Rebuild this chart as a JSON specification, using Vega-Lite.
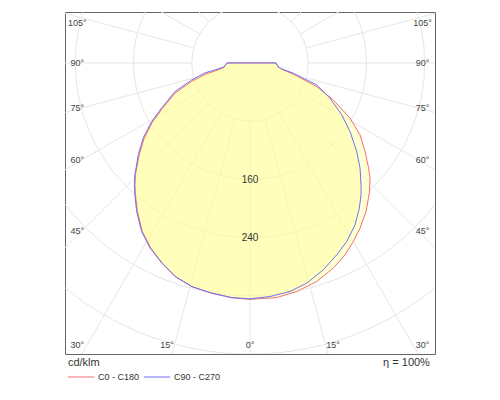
{
  "$schema": "https://vega.github.io/schema/vega-lite/v6.json",
  "width": 370,
  "height": 342,
  "autosize": "none",
  "padding": {"left": 65, "top": 12, "right": 65, "bottom": 46},
  "config": {
    "view": {"stroke": "#666", "strokeWidth": 1},
    "font": "Liberation Sans"
  },
  "datasets": {
    "rings": [
      {"x": 0, "y": 0, "r": 80},
      {"x": 0, "y": 0, "r": 160},
      {"x": 0, "y": 0, "r": 240},
      {"x": 0, "y": 0, "r": 320},
      {"x": 0, "y": 0, "r": 400}
    ],
    "spokes": [
      {"x1": 0, "y1": -80, "x2": 0, "y2": -700},
      {"x1": 20.7, "y1": -77.3, "x2": 181.2, "y2": -676.1},
      {"x1": 40, "y1": -69.3, "x2": 350, "y2": -606.2},
      {"x1": 56.6, "y1": -56.6, "x2": 495, "y2": -495},
      {"x1": 69.3, "y1": -40, "x2": 606.2, "y2": -350},
      {"x1": 77.3, "y1": -20.7, "x2": 676.1, "y2": -181.2},
      {"x1": 80, "y1": 0, "x2": 700, "y2": 0},
      {"x1": 77.3, "y1": 20.7, "x2": 676.1, "y2": 181.2},
      {"x1": 69.3, "y1": 40, "x2": 606.2, "y2": 350},
      {"x1": 56.6, "y1": 56.6, "x2": 495, "y2": 495},
      {"x1": 40, "y1": 69.3, "x2": 350, "y2": 606.2},
      {"x1": 20.7, "y1": 77.3, "x2": 181.2, "y2": 676.1},
      {"x1": -20.7, "y1": -77.3, "x2": -181.2, "y2": -676.1},
      {"x1": -40, "y1": -69.3, "x2": -350, "y2": -606.2},
      {"x1": -56.6, "y1": -56.6, "x2": -495, "y2": -495},
      {"x1": -69.3, "y1": -40, "x2": -606.2, "y2": -350},
      {"x1": -77.3, "y1": -20.7, "x2": -676.1, "y2": -181.2},
      {"x1": -80, "y1": 0, "x2": -700, "y2": 0},
      {"x1": -77.3, "y1": 20.7, "x2": -676.1, "y2": 181.2},
      {"x1": -69.3, "y1": 40, "x2": -606.2, "y2": 350},
      {"x1": -56.6, "y1": 56.6, "x2": -495, "y2": 495},
      {"x1": -40, "y1": 69.3, "x2": -350, "y2": 606.2},
      {"x1": -20.7, "y1": 77.3, "x2": -181.2, "y2": 676.1}
    ],
    "curves": [
      {"s": "C0 - C180", "i": 1, "x": 0, "y": 0},
      {"s": "C0 - C180", "i": 2, "x": -31.6, "y": 0},
      {"s": "C0 - C180", "i": 3, "x": -35.7, "y": -6.2},
      {"s": "C0 - C180", "i": 4, "x": -48.1, "y": -11.0},
      {"s": "C0 - C180", "i": 5, "x": -61.8, "y": -15.8},
      {"s": "C0 - C180", "i": 6, "x": -80.1, "y": -25.4},
      {"s": "C0 - C180", "i": 7, "x": -103.0, "y": -41.6},
      {"s": "C0 - C180", "i": 8, "x": -121.3, "y": -63.9},
      {"s": "C0 - C180", "i": 9, "x": -134.6, "y": -82.4},
      {"s": "C0 - C180", "i": 10, "x": -145.6, "y": -104.4},
      {"s": "C0 - C180", "i": 11, "x": -152.5, "y": -127.7},
      {"s": "C0 - C180", "i": 12, "x": -157.3, "y": -153.8},
      {"s": "C0 - C180", "i": 13, "x": -158.0, "y": -167.6},
      {"s": "C0 - C180", "i": 14, "x": -157.3, "y": -181.3},
      {"s": "C0 - C180", "i": 15, "x": -154.5, "y": -204.7},
      {"s": "C0 - C180", "i": 16, "x": -147.7, "y": -232.1},
      {"s": "C0 - C180", "i": 17, "x": -136.0, "y": -254.8},
      {"s": "C0 - C180", "i": 18, "x": -120.2, "y": -275.4},
      {"s": "C0 - C180", "i": 19, "x": -101.6, "y": -294.0},
      {"s": "C0 - C180", "i": 20, "x": -79.0, "y": -307.7},
      {"s": "C0 - C180", "i": 21, "x": -52.2, "y": -316.6},
      {"s": "C0 - C180", "i": 22, "x": -24.7, "y": -322.8},
      {"s": "C0 - C180", "i": 23, "x": 0, "y": -324.9},
      {"s": "C0 - C180", "i": 24, "x": 36.7, "y": -322.4},
      {"s": "C0 - C180", "i": 25, "x": 64.1, "y": -314.1},
      {"s": "C0 - C180", "i": 26, "x": 91.6, "y": -300.4},
      {"s": "C0 - C180", "i": 27, "x": 114.4, "y": -282.0},
      {"s": "C0 - C180", "i": 28, "x": 130.5, "y": -263.7},
      {"s": "C0 - C180", "i": 29, "x": 141.9, "y": -245.5},
      {"s": "C0 - C180", "i": 30, "x": 151.1, "y": -227.1},
      {"s": "C0 - C180", "i": 31, "x": 159.3, "y": -204.3},
      {"s": "C0 - C180", "i": 32, "x": 164.1, "y": -177.2},
      {"s": "C0 - C180", "i": 33, "x": 164.8, "y": -158.0},
      {"s": "C0 - C180", "i": 34, "x": 162.8, "y": -144.2},
      {"s": "C0 - C180", "i": 35, "x": 158.0, "y": -121.8},
      {"s": "C0 - C180", "i": 36, "x": 151.1, "y": -98.9},
      {"s": "C0 - C180", "i": 37, "x": 137.4, "y": -76.0},
      {"s": "C0 - C180", "i": 38, "x": 114.4, "y": -50.8},
      {"s": "C0 - C180", "i": 39, "x": 91.6, "y": -32.6},
      {"s": "C0 - C180", "i": 40, "x": 61.8, "y": -16.5},
      {"s": "C0 - C180", "i": 41, "x": 44.0, "y": -8.9},
      {"s": "C0 - C180", "i": 42, "x": 38.5, "y": -5.1},
      {"s": "C0 - C180", "i": 43, "x": 35.7, "y": 0},
      {"s": "C0 - C180", "i": 44, "x": 0, "y": 0},
      {"s": "C90 - C270", "i": 1, "x": 0, "y": 0},
      {"s": "C90 - C270", "i": 2, "x": -31.6, "y": 0},
      {"s": "C90 - C270", "i": 3, "x": -35.7, "y": -5.5},
      {"s": "C90 - C270", "i": 4, "x": -48.1, "y": -9.6},
      {"s": "C90 - C270", "i": 5, "x": -61.8, "y": -13.7},
      {"s": "C90 - C270", "i": 6, "x": -80.1, "y": -23.4},
      {"s": "C90 - C270", "i": 7, "x": -103.0, "y": -39.4},
      {"s": "C90 - C270", "i": 8, "x": -121.3, "y": -61.8},
      {"s": "C90 - C270", "i": 9, "x": -135.0, "y": -80.6},
      {"s": "C90 - C270", "i": 10, "x": -146.6, "y": -103.0},
      {"s": "C90 - C270", "i": 11, "x": -153.4, "y": -126.4},
      {"s": "C90 - C270", "i": 12, "x": -158.0, "y": -153.8},
      {"s": "C90 - C270", "i": 13, "x": -158.7, "y": -167.6},
      {"s": "C90 - C270", "i": 14, "x": -158.0, "y": -181.3},
      {"s": "C90 - C270", "i": 15, "x": -155.6, "y": -204.3},
      {"s": "C90 - C270", "i": 16, "x": -148.8, "y": -231.7},
      {"s": "C90 - C270", "i": 17, "x": -137.4, "y": -254.1},
      {"s": "C90 - C270", "i": 18, "x": -121.3, "y": -274.7},
      {"s": "C90 - C270", "i": 19, "x": -103.0, "y": -293.5},
      {"s": "C90 - C270", "i": 20, "x": -80.1, "y": -307.3},
      {"s": "C90 - C270", "i": 21, "x": -52.6, "y": -316.3},
      {"s": "C90 - C270", "i": 22, "x": -25.1, "y": -322.4},
      {"s": "C90 - C270", "i": 23, "x": 0, "y": -324.2},
      {"s": "C90 - C270", "i": 24, "x": 27.5, "y": -321.0},
      {"s": "C90 - C270", "i": 25, "x": 54.9, "y": -314.1},
      {"s": "C90 - C270", "i": 26, "x": 77.9, "y": -302.6},
      {"s": "C90 - C270", "i": 27, "x": 100.7, "y": -284.3},
      {"s": "C90 - C270", "i": 28, "x": 119.1, "y": -263.7},
      {"s": "C90 - C270", "i": 29, "x": 132.8, "y": -245.5},
      {"s": "C90 - C270", "i": 30, "x": 144.2, "y": -222.5},
      {"s": "C90 - C270", "i": 31, "x": 150.1, "y": -199.6},
      {"s": "C90 - C270", "i": 32, "x": 152.5, "y": -181.3},
      {"s": "C90 - C270", "i": 33, "x": 152.5, "y": -167.6},
      {"s": "C90 - C270", "i": 34, "x": 151.1, "y": -144.6},
      {"s": "C90 - C270", "i": 35, "x": 146.6, "y": -121.8},
      {"s": "C90 - C270", "i": 36, "x": 137.4, "y": -94.4},
      {"s": "C90 - C270", "i": 37, "x": 126.0, "y": -71.4},
      {"s": "C90 - C270", "i": 38, "x": 109.9, "y": -48.5},
      {"s": "C90 - C270", "i": 39, "x": 91.6, "y": -30.2},
      {"s": "C90 - C270", "i": 40, "x": 59.5, "y": -14.1},
      {"s": "C90 - C270", "i": 41, "x": 43.5, "y": -8.2},
      {"s": "C90 - C270", "i": 42, "x": 38.5, "y": -5.1},
      {"s": "C90 - C270", "i": 43, "x": 35.7, "y": 0},
      {"s": "C90 - C270", "i": 44, "x": 0, "y": 0}
    ],
    "angleLabels": [
      {"x": -237, "y": 55, "t": "105°"},
      {"x": -237, "y": 0, "t": "90°"},
      {"x": -237, "y": -62, "t": "75°"},
      {"x": -237, "y": -133, "t": "60°"},
      {"x": -237, "y": -231, "t": "45°"},
      {"x": 237, "y": 55, "t": "105°"},
      {"x": 237, "y": 0, "t": "90°"},
      {"x": 237, "y": -62, "t": "75°"},
      {"x": 237, "y": -133, "t": "60°"},
      {"x": 237, "y": -231, "t": "45°"},
      {"x": -237, "y": -387, "t": "30°"},
      {"x": -114, "y": -387, "t": "15°"},
      {"x": 0, "y": -387, "t": "0°"},
      {"x": 114, "y": -387, "t": "15°"},
      {"x": 237, "y": -387, "t": "30°"}
    ],
    "ringLabels": [
      {"x": 0, "y": -161, "t": "160"},
      {"x": 0, "y": -240, "t": "240"}
    ],
    "notes": [
      {"x": 247, "y": -413, "t": "η = 100%"}
    ],
    "units": [
      {"x": -250, "y": -413, "t": "cd/klm"}
    ]
  },
  "layer": [
    {
      "data": {"name": "rings"},
      "mark": {"type": "point", "filled": false, "stroke": "#e6e6e6", "strokeWidth": 1, "opacity": 1, "clip": true},
      "encoding": {
        "x": {"field": "x", "type": "quantitative", "scale": {"domain": [-254, 254], "nice": false, "zero": false}, "axis": null},
        "y": {"field": "y", "type": "quantitative", "scale": {"domain": [-400, 70], "nice": false, "zero": false}, "axis": null},
        "size": {"field": "r", "type": "quantitative", "scale": {"type": "pow", "exponent": 2, "domain": [0, 480], "range": [0, 488461]}, "legend": null}
      }
    },
    {
      "data": {"name": "spokes"},
      "mark": {"type": "rule", "stroke": "#e6e6e6", "strokeWidth": 1, "clip": true},
      "encoding": {
        "x": {"field": "x1", "type": "quantitative", "scale": {"domain": [-254, 254], "nice": false, "zero": false}, "axis": null},
        "y": {"field": "y1", "type": "quantitative", "scale": {"domain": [-400, 70], "nice": false, "zero": false}, "axis": null},
        "x2": {"field": "x2"},
        "y2": {"field": "y2"}
      }
    },
    {
      "data": {"name": "curves"},
      "mark": {"type": "line", "fill": "#ffff99", "fillOpacity": 0.42, "stroke": null, "interpolate": "linear"},
      "encoding": {
        "x": {"field": "x", "type": "quantitative", "scale": {"domain": [-254, 254], "nice": false, "zero": false}, "axis": null},
        "y": {"field": "y", "type": "quantitative", "scale": {"domain": [-400, 70], "nice": false, "zero": false}, "axis": null},
        "detail": {"field": "s"},
        "order": {"field": "i", "type": "quantitative"}
      }
    },
    {
      "data": {"name": "curves"},
      "mark": {"type": "line", "strokeWidth": 1, "interpolate": "linear"},
      "encoding": {
        "x": {"field": "x", "type": "quantitative", "scale": {"domain": [-254, 254], "nice": false, "zero": false}, "axis": null},
        "y": {"field": "y", "type": "quantitative", "scale": {"domain": [-400, 70], "nice": false, "zero": false}, "axis": null},
        "order": {"field": "i", "type": "quantitative"},
        "color": {
          "field": "s",
          "type": "nominal",
          "scale": {"domain": ["C0 - C180", "C90 - C270"], "range": ["#f47070", "#7070f4"]},
          "legend": {
            "orient": "none",
            "legendX": 2,
            "legendY": 351,
            "direction": "horizontal",
            "title": null,
            "symbolType": "stroke",
            "symbolSize": 700,
            "symbolStrokeWidth": 1,
            "labelFont": "Liberation Sans",
            "labelFontSize": 9,
            "labelColor": "#333",
            "labelOffset": 3,
            "columnPadding": 1
          }
        }
      }
    },
    {
      "data": {"name": "angleLabels"},
      "mark": {"type": "text", "fontSize": 9, "color": "#444", "align": "center", "baseline": "middle"},
      "encoding": {
        "x": {"field": "x", "type": "quantitative", "scale": {"domain": [-254, 254], "nice": false, "zero": false}, "axis": null},
        "y": {"field": "y", "type": "quantitative", "scale": {"domain": [-400, 70], "nice": false, "zero": false}, "axis": null},
        "text": {"field": "t"}
      }
    },
    {
      "data": {"name": "ringLabels"},
      "mark": {"type": "text", "fontSize": 10, "color": "#333", "align": "center", "baseline": "middle"},
      "encoding": {
        "x": {"field": "x", "type": "quantitative", "scale": {"domain": [-254, 254], "nice": false, "zero": false}, "axis": null},
        "y": {"field": "y", "type": "quantitative", "scale": {"domain": [-400, 70], "nice": false, "zero": false}, "axis": null},
        "text": {"field": "t"}
      }
    },
    {
      "data": {"name": "notes"},
      "mark": {"type": "text", "fontSize": 11, "color": "#333", "align": "right", "baseline": "middle"},
      "encoding": {
        "x": {"field": "x", "type": "quantitative", "scale": {"domain": [-254, 254], "nice": false, "zero": false}, "axis": null},
        "y": {"field": "y", "type": "quantitative", "scale": {"domain": [-400, 70], "nice": false, "zero": false}, "axis": null},
        "text": {"field": "t"}
      }
    },
    {
      "data": {"name": "units"},
      "mark": {"type": "text", "fontSize": 11, "color": "#333", "align": "left", "baseline": "middle"},
      "encoding": {
        "x": {"field": "x", "type": "quantitative", "scale": {"domain": [-254, 254], "nice": false, "zero": false}, "axis": null},
        "y": {"field": "y", "type": "quantitative", "scale": {"domain": [-400, 70], "nice": false, "zero": false}, "axis": null},
        "text": {"field": "t"}
      }
    }
  ]
}
